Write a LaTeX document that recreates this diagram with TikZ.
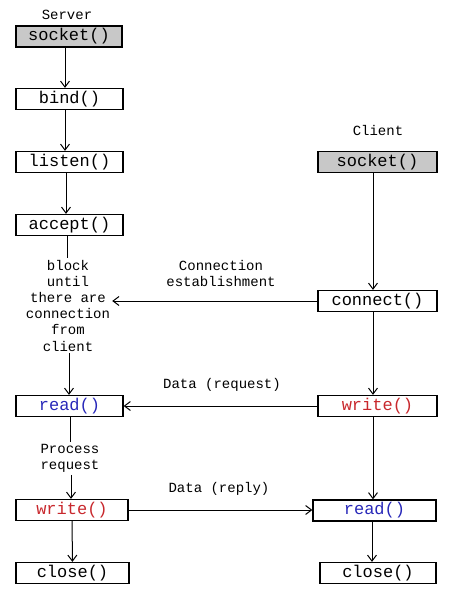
\documentclass[tikz,border=0pt]{standalone}
\usepackage{fontspec}
\setmonofont{Liberation Mono}
\usetikzlibrary{arrows.meta}
\definecolor{callred}{RGB}{200,40,45}
\definecolor{callblue}{RGB}{40,40,185}
\definecolor{boxgray}{RGB}{200,200,200}
\tikzset{
  call/.style={draw,line width=1.2pt,minimum height=21pt,inner sep=0pt,
    font=\ttfamily\fontsize{17}{20}\selectfont},
  note/.style={align=center,inner sep=2pt,
    font=\ttfamily\fontsize{14}{16.2}\selectfont},
  flow/.style={-{Straight Barb[length=6pt,width=9pt]},line width=1pt}
}
\begin{document}
\begin{tikzpicture}[x=1pt,y=-1pt]
\useasboundingbox (0,0) rectangle (465,614);

% server side
\node[note] (server) at (67,15) {Server};
\node[call,fill=boxgray,minimum width=106pt] (ssocket) at (69,36.5) {socket()};
\node[call,minimum width=107pt] (sbind) at (69.5,99) {bind()};
\node[call,minimum width=107pt] (slisten) at (69.5,162) {listen()};
\node[call,minimum width=107pt] (saccept) at (69.5,225) {accept()};
\node[note] (block) at (68,305.5) {block\\until\\there are\\connection\\from\\client};
\node[call,minimum width=107pt,text=callblue] (sread) at (69.5,406) {read()};
\node[note] (process) at (70,458.5) {Process\\request};
\node[call,minimum width=112pt,text=callred] (swrite) at (72,510) {write()};
\node[call,minimum width=113pt] (sclose) at (72.5,573) {close()};

% client side
\node[note] (client) at (378,130) {Client};
\node[call,fill=boxgray,minimum width=119pt] (csocket) at (377.5,162) {socket()};
\node[call,minimum width=119pt] (cconnect) at (377.5,301) {connect()};
\node[call,minimum width=119pt,text=callred] (cwrite) at (377.5,406) {write()};
\node[call,minimum width=123pt,text=callblue] (cread) at (374.5,510.5) {read()};
\node[call,minimum width=116pt] (cclose) at (378,573) {close()};

% labels
\node[note] (connlbl) at (221,273.5) {Connection\\establishment};
\node[note] (reqlbl) at (222,385) {Data (request)};
\node[note] (replylbl) at (219,489) {Data (reply)};

% server flow
\draw[flow] (ssocket.south -| 65,0) -- (sbind.north -| 65,0);
\draw[flow] (sbind.south -| 65,0) -- (slisten.north -| 65,0);
\draw[flow] (slisten.south -| 66,0) -- (saccept.north -| 66,0);
\draw[line width=1pt] (saccept.south -| 67,0) -- (block.north -| 67,0);
\draw[flow] (block.south -| 69,0) -- (sread.north -| 69,0);
\draw[line width=1pt] (sread.south -| 70,0) -- (process.north -| 70,0);
\draw[flow] (process.south -| 71,0) -- (swrite.north -| 71,0);
\draw[flow] (swrite) -- (sclose);

% client flow
\draw[flow] (csocket.south -| 373,0) -- (cconnect.north -| 373,0);
\draw[flow] (cconnect.south -| 373,0) -- (cwrite.north -| 373,0);
\draw[flow] (cwrite.south -| 373,0) -- (cread.north -| 373,0);
\draw[flow] (cread.south -| 372,0) -- (cclose.north -| 372,0);

% messages
\draw[flow] (cconnect.west) -- (cconnect.west -| block.east);
\draw[flow] (cwrite) -- (sread);
\draw[flow] (swrite) -- (swrite -| cread.west);
\end{tikzpicture}
\end{document}
